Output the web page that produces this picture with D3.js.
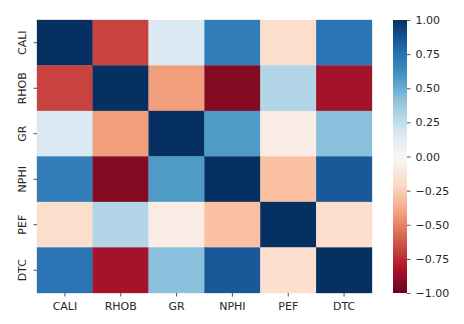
<!DOCTYPE html>
<html>
<head>
<meta charset="utf-8">
<script src="https://cdn.jsdelivr.net/npm/d3@7"></script>
<style>
  body { margin: 0; background: #fff; }
  text { font-family: "DejaVu Sans", sans-serif; fill: #262626; }
</style>
</head>
<body>
<div id="heatmap"></div>
<script>
// log curves and their pairwise correlations
var logs = ["CALI", "RHOB", "GR", "NPHI", "PEF", "DTC"];
var corrCALI = [1.00, -0.68, 0.15, 0.70, -0.18, 0.74];
var corrRHOB = [-0.68, 1.00, -0.42, -0.92, 0.30, -0.84];
var corrGR   = [0.15, -0.42, 1.00, 0.57, -0.08, 0.42];
var corrNPHI = [0.70, -0.92, 0.57, 1.00, -0.30, 0.85];
var corrPEF  = [-0.18, 0.30, -0.08, -0.30, 1.00, -0.17];
var corrDTC  = [0.74, -0.84, 0.42, 0.85, -0.17, 1.00];
var cbarTicks = [1.00, 0.75, 0.50, 0.25, 0.00, -0.25, -0.50, -0.75, -1.00];

var rows = [corrCALI, corrRHOB, corrGR, corrNPHI, corrPEF, corrDTC];

var width = 464, height = 324;
var mapLeft = 37, mapTop = 20, mapRight = 372, mapBottom = 293;
var fontSize = "11px";

// RdBu, linear between the eleven brewer stops
var rdbu = ["#67001f", "#b2182b", "#d6604d", "#f4a582", "#fddbc7", "#f7f7f7",
            "#d1e5f0", "#92c5de", "#4393c3", "#2166ac", "#053061"];
var color = d3.scaleLinear()
  .domain(d3.range(11).map(function(i) { return -1 + i * 0.2; }))
  .range(rdbu)
  .interpolate(d3.interpolateRgb)
  .clamp(true);

var svg = d3.select("#heatmap").append("svg")
  .attr("width", width)
  .attr("height", height);

var x = d3.scaleBand().domain(logs).range([mapLeft, mapRight]);
var y = d3.scaleBand().domain(logs).range([mapTop, mapBottom]);

var cells = [];
rows.forEach(function(r, i) {
  r.forEach(function(v, j) { cells.push({ row: logs[i], col: logs[j], value: v }); });
});

svg.append("g").selectAll("rect")
  .data(cells)
  .enter().append("rect")
  .attr("x", function(d) { return x(d.col); })
  .attr("y", function(d) { return y(d.row); })
  .attr("width", x.bandwidth())
  .attr("height", y.bandwidth())
  .attr("fill", function(d) { return color(d.value); })
  .attr("stroke", function(d) { return color(d.value); })
  .attr("stroke-width", 0.3);

// axes
var xAxis = svg.append("g")
  .attr("transform", "translate(0," + mapBottom + ")")
  .call(d3.axisBottom(x).tickSize(3.5).tickPadding(6));
var yAxis = svg.append("g")
  .attr("transform", "translate(" + mapLeft + ",0)")
  .call(d3.axisLeft(y).tickSize(3.5).tickPadding(5));

[xAxis, yAxis].forEach(function(a) {
  a.select(".domain").remove();
  a.selectAll(".tick line").attr("stroke", "#262626").attr("stroke-width", 0.8);
  a.selectAll(".tick text").style("font-size", fontSize).attr("fill", "#262626")
    .style("font-family", "DejaVu Sans");
});
yAxis.selectAll(".tick text")
  .attr("text-anchor", "middle")
  .attr("x", 0)
  .attr("transform", "translate(-15,0) rotate(-90)")
  .attr("dy", "0.35em");

// colour bar
var cbX = 393, cbW = 14;
var cbScale = d3.scaleLinear().domain([-1, 1]).range([mapBottom, mapTop]);

var defs = svg.append("defs");
var grad = defs.append("linearGradient")
  .attr("id", "rdbu-grad")
  .attr("x1", 0).attr("y1", 1).attr("x2", 0).attr("y2", 0);
grad.selectAll("stop")
  .data(d3.range(0, 1.0001, 0.05))
  .enter().append("stop")
  .attr("offset", function(t) { return t; })
  .attr("stop-color", function(t) { return color(-1 + 2 * t); });

svg.append("rect")
  .attr("x", cbX).attr("y", mapTop)
  .attr("width", cbW).attr("height", mapBottom - mapTop)
  .attr("fill", "url(#rdbu-grad)");

var cbAxis = svg.append("g")
  .attr("transform", "translate(" + (cbX + cbW) + ",0)")
  .call(d3.axisRight(cbScale)
    .tickValues(cbarTicks)
    .tickSize(3.5)
    .tickPadding(5)
    .tickFormat(function(d) { return d3.format(".2f")(d).replace("-", "\u2212"); }));
cbAxis.select(".domain").remove();
cbAxis.selectAll(".tick line").attr("stroke", "#262626").attr("stroke-width", 0.8);
cbAxis.selectAll(".tick text").style("font-size", fontSize).attr("fill", "#262626")
  .style("font-family", "DejaVu Sans");
</script>
</body>
</html>
